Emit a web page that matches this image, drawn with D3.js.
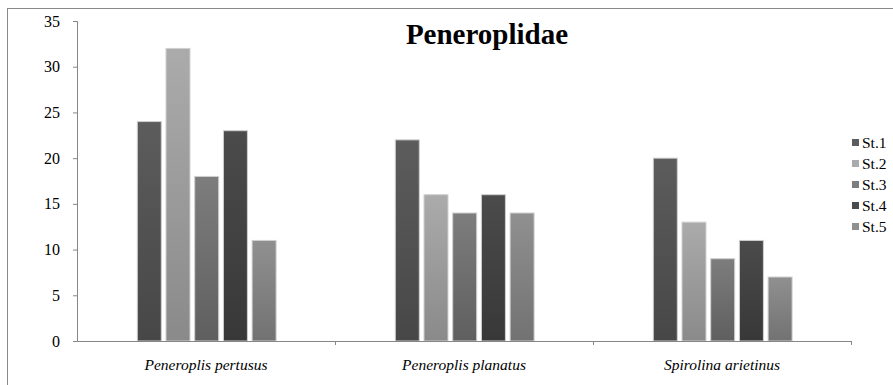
<!DOCTYPE html>
<html>
<head>
<meta charset="utf-8">
<script src="https://cdn.jsdelivr.net/npm/d3@7"></script>
<style>
  body { margin: 0; background: #fff; }
  svg { display: block; }
  text { font-family: "Liberation Serif", "Times New Roman", serif; fill: #000; }
</style>
</head>
<body>
<div id="chart"></div>
<script>
var categories = ["Peneroplis pertusus", "Peneroplis planatus", "Spirolina arietinus"];
var series = ["St.1", "St.2", "St.3", "St.4", "St.5"];
var st1 = [24, 22, 20];
var st2 = [32, 16, 13];
var st3 = [18, 14, 9];
var st4 = [23, 16, 11];
var st5 = [11, 14, 7];
var yTicks = [0, 5, 10, 15, 20, 25, 30, 35];

var values = [st1, st2, st3, st4, st5];
// gradient stops per series (top, bottom)
var shades = [["#5c5c5c", "#474747"], ["#ababab", "#8a8a8a"], ["#7d7d7d", "#5f5f5f"],
              ["#4b4b4b", "#383838"], ["#909090", "#727272"]];

var width = 893, height = 385;
var margin = { top: 21, left: 77, bottom: 44, right: 42 };

var svg = d3.select("#chart").append("svg")
   .attr("width", width)
   .attr("height", height);

var defs = svg.append("defs");
shades.forEach(function (s, i) {
   var g = defs.append("linearGradient")
      .attr("id", "grad" + i)
      .attr("x1", 0).attr("y1", 0).attr("x2", 0).attr("y2", 1);
   g.append("stop").attr("offset", "0%").attr("stop-color", s[0]);
   g.append("stop").attr("offset", "100%").attr("stop-color", s[1]);
});

// outer frame
svg.append("rect")
   .attr("x", 7.5).attr("y", 8.5)
   .attr("width", 900).attr("height", 400)
   .attr("fill", "none")
   .attr("stroke", "#8a8a8a");

var x0 = d3.scaleBand()
   .domain(categories)
   .range([margin.left, width - margin.right]);

var x1 = d3.scaleBand()
   .domain(series)
   .range([60.3, 199.1])
   .paddingInner(0.164)
   .paddingOuter(0);

var y = d3.scaleLinear()
   .domain([0, 35])
   .range([height - margin.bottom, margin.top]);

var groups = svg.selectAll(".grp")
   .data(categories)
   .enter().append("g")
   .attr("class", "grp")
   .attr("transform", function (d) { return "translate(" + x0(d) + ",0)"; });

groups.selectAll("rect")
   .data(function (d, ci) {
      return series.map(function (s, si) { return { s: s, si: si, v: values[si][ci] }; });
   })
   .enter().append("rect")
   .attr("x", function (d) { return x1(d.s); })
   .attr("y", function (d) { return y(d.v); })
   .attr("width", x1.bandwidth())
   .attr("height", function (d) { return y(0) - y(d.v); })
   .attr("fill", function (d) { return "url(#grad" + d.si + ")"; })
   .attr("stroke", "#d0d0d0")
   .attr("stroke-width", 1);

// y axis
var yAxis = d3.axisLeft(y).tickValues(yTicks).tickSize(4).tickPadding(13);
var gY = svg.append("g")
   .attr("transform", "translate(" + margin.left + ",0)")
   .call(yAxis);
gY.select(".domain").attr("stroke", "#868686");
gY.selectAll(".tick line").attr("stroke", "#868686");
gY.selectAll(".tick text")
   .style("font-size", "16px");

// x axis
var xAxis = d3.axisBottom(x0).tickSize(0).tickPadding(18);
var gX = svg.append("g")
   .attr("transform", "translate(0," + y(0) + ")")
   .call(xAxis);
gX.select(".domain").attr("stroke", "#868686");
gX.selectAll(".tick text")
   .style("font-size", "15.5px")
   .style("font-style", "italic");

// category boundary ticks
var bounds = categories.map(function (c) { return x0(c); }).concat([x0.range()[1]]);
svg.selectAll(".btick")
   .data(bounds.slice(1))
   .enter().append("line")
   .attr("class", "btick")
   .attr("x1", function (d) { return d + 0.5; })
   .attr("x2", function (d) { return d + 0.5; })
   .attr("y1", y(0))
   .attr("y2", y(0) + 4)
   .attr("stroke", "#868686");

// title
svg.append("text")
   .attr("x", 487)
   .attr("y", 44)
   .attr("text-anchor", "middle")
   .style("font-size", "29px")
   .style("font-weight", "bold")
   .text("Peneroplidae");

// legend
var legend = svg.selectAll(".leg")
   .data(series)
   .enter().append("g")
   .attr("class", "leg")
   .attr("transform", function (d, i) { return "translate(852," + (143 + i * 21) + ")"; });

legend.append("rect")
   .attr("x", 0).attr("y", -4)
   .attr("width", 7).attr("height", 7)
   .attr("fill", function (d, i) { return shades[i][0]; });

legend.append("text")
   .attr("x", 10)
   .attr("y", 5)
   .style("font-size", "15.5px")
   .text(function (d) { return d; });
</script>
</body>
</html>
